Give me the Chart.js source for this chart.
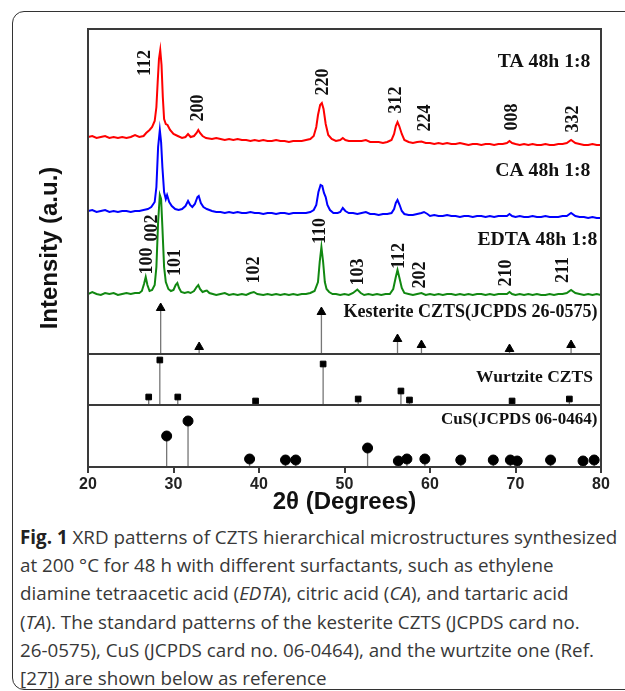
<!DOCTYPE html>
<html><head><meta charset="utf-8">
<script src="https://cdn.jsdelivr.net/npm/chart.js@4.4.0/dist/chart.umd.min.js"></script>
<style>
html,body{margin:0;padding:0;background:#fff;width:625px;height:691px;overflow:hidden;}
#frame{position:absolute;left:12px;top:11px;width:700px;height:677px;border:1.5px solid #333;border-radius:12px;}
#wrap{position:absolute;left:0;top:0;width:625px;height:520px;}
#caption{position:absolute;left:20px;top:523px;font-family:'Open Sans';font-size:18.8px;line-height:28.2px;color:#383838;white-space:nowrap;}
#caption b{color:#222;}
</style></head>
<body>
<div id="frame"></div>
<div id="wrap"><canvas id="c" width="625" height="520"></canvas></div>
<div id="caption"><b>Fig. 1</b> XRD patterns of CZTS hierarchical microstructures synthesized<br>at 200 °C for 48 h with different surfactants, such as ethylene<br>diamine tetraacetic acid (<i>EDTA</i>), citric acid (<i>CA</i>), and tartaric acid<br>(<i>TA</i>). The standard patterns of the kesterite CZTS (JCPDS card no.<br>26-0575), CuS (JCPDS card no. 06-0464), and the wurtzite one (Ref.<br>[27]) are shown below as reference</div>
<script>
// ---- data (2θ in degrees, intensity in arbitrary offset units) ----
const taPattern = [[20,330],[20.5,331],[21,329],[21.5,330],[22,331],[22.5,329],[23,330],[23.5,329],[24,330],[24.5,329],[25,330],[25.5,332],[26,330],[26.5,331],[26.8,334],[27.2,337],[27.5,340],[27.8,346],[28,360],[28.15,385],[28.3,408],[28.45,417],[28.6,402],[28.75,370],[28.9,348],[29.1,343],[29.3,342],[29.6,337],[30,333],[30.5,331],[31,329],[31.4,330],[31.7,333],[32,330],[32.4,331],[32.7,334],[32.9,337],[33.1,334],[33.4,331],[33.8,329],[34.5,328],[35,329],[35.5,328],[36,327],[36.5,328],[37,327],[37.5,328],[38,327],[38.5,327],[39,326],[39.5,327],[40,326],[40.5,327],[41,326],[41.5,326],[42,327],[42.5,326],[43,326],[43.5,325],[44,326],[44.5,326],[45,326],[45.5,327],[46,328],[46.4,331],[46.7,340],[46.9,352],[47.15,362],[47.35,364],[47.55,358],[47.8,343],[48.1,332],[48.5,328],[49,326],[49.5,327],[49.8,329],[50.1,327],[50.5,326],[51,326],[51.5,326],[52,326],[52.5,327],[53,325],[53.5,325],[54,325],[54.5,324],[55,325],[55.5,327],[55.8,333],[56,341],[56.2,345],[56.4,341],[56.7,333],[57,327],[57.5,325],[58,324],[58.5,325],[59,325.5],[59.5,324],[60,324],[60.5,323],[61,324],[61.5,323],[62,324],[62.5,323],[63,323],[63.5,324],[64,323],[64.5,322],[65,323],[65.5,323],[66,322],[66.5,323],[67,323],[67.5,322],[68,323],[68.5,323],[69,324],[69.3,326],[69.6,324],[70,323],[70.5,322],[71,323],[71.5,322],[72,323],[72.5,322],[73,322],[73.5,323],[74,322],[74.5,322],[75,323],[75.5,323],[76,324],[76.5,327],[77,324],[77.5,323],[78,322],[78.5,322],[79,323],[79.5,322],[80,322]];
const caPattern = [[20,256],[20.5,257],[21,255],[21.5,256],[22,257],[22.5,255],[23,256],[23.5,255],[24,256],[24.5,256],[25,255],[25.5,256],[26,256],[26.5,257],[27,258],[27.4,260],[27.8,265],[28,280],[28.2,320],[28.4,337],[28.55,325],[28.7,300],[28.9,275],[29.1,268],[29.25,272],[29.5,265],[29.8,261],[30.2,258],[30.6,257],[31,258],[31.4,261],[31.7,266],[31.95,262],[32.2,260],[32.5,263],[32.8,270],[32.95,271],[33.2,264],[33.5,260],[33.9,258],[34.5,256],[35,255],[35.5,255],[36,254],[36.5,255],[37,254],[37.5,255],[38,254],[38.5,254],[39,255],[39.5,254],[40,254],[40.5,253],[41,254],[41.5,254],[42,253],[42.5,254],[43,254],[43.5,253],[44,254],[44.5,254],[45,254],[45.5,254],[46,255],[46.4,257],[46.7,262],[46.95,275],[47.2,282],[47.4,281],[47.6,274],[47.8,270],[48,262],[48.3,257],[48.7,254],[49.2,254],[49.5,255],[49.8,259],[50.1,256],[50.5,254],[51,254],[51.5,253],[52,254],[52.5,255],[53,253],[53.5,253],[54,252],[54.5,253],[55,253],[55.5,254],[55.8,258],[56,264],[56.2,267],[56.45,262],[56.7,256],[57,253],[57.5,252],[58,252],[58.5,253],[59,254],[59.3,255],[59.7,253],[60,251],[60.5,252],[61,251],[61.5,251],[62,252],[62.5,251],[63,251],[63.5,250],[64,251],[64.5,251],[65,250],[65.5,251],[66,251],[66.5,250],[67,251],[67.5,250],[68,251],[68.5,251],[69,251],[69.3,253],[69.6,251],[70,250],[70.5,251],[71,250],[71.5,250],[72,251],[72.5,250],[73,250],[73.5,251],[74,250],[74.5,250],[75,250],[75.5,251],[76,251],[76.5,254],[77,251],[77.5,250],[78,250],[78.5,249],[79,250],[79.5,249],[80,249]];
const edtaPattern = [[20,173],[20.5,175],[21,173],[21.5,172],[22,174],[22.5,173],[23,174],[23.5,172],[24,173],[24.5,174],[25,173],[25.5,174],[26,174],[26.3,176],[26.55,183],[26.75,190],[26.95,182],[27.2,176],[27.5,177],[27.8,182],[28,200],[28.2,245],[28.4,272],[28.55,268],[28.7,240],[28.9,200],[29.1,185],[29.4,178],[29.7,176],[30,177],[30.25,182],[30.45,184],[30.65,179],[30.9,175],[31.3,174],[31.7,175],[32,174],[32.4,176],[32.7,180],[32.9,182],[33.1,178],[33.4,175],[33.7,176],[33.9,176.5],[34.2,174],[34.6,173],[35,172],[35.5,173],[36,174],[36.5,172],[37,173],[37.5,172],[38,173],[38.5,172],[39,174],[39.4,175],[39.8,173],[40.5,172],[41,173],[41.5,172],[42,173],[42.5,172],[43,173],[43.5,172],[44,173],[44.5,172],[45,173],[45.5,173],[46,174],[46.5,176],[46.9,185],[47.1,205],[47.3,220],[47.5,205],[47.7,185],[47.9,178],[48.2,175],[48.6,173],[49,173],[49.5,172],[50,173],[50.5,172],[51,174],[51.5,177.5],[51.9,174],[52.3,172],[52.8,173],[53.3,172],[53.8,173],[54.3,172],[54.8,173],[55.3,173],[55.7,178],[56,190],[56.2,197],[56.4,190],[56.7,179],[57,174],[57.5,173],[58,172],[58.5,173],[59,174],[59.5,172],[60,173],[60.5,172],[61,173],[61.5,172],[62,173],[62.5,173],[63,172],[63.5,173],[64,172],[64.5,173],[65,172],[65.5,173],[66,173],[66.5,172],[67,173],[67.5,172],[68,173],[68.5,173],[69,173],[69.3,175],[69.6,173],[70,172],[70.5,173],[71,172],[71.5,173],[72,172],[72.5,173],[73,172],[73.5,172],[74,173],[74.5,172],[75,173],[75.5,173],[76,174],[76.5,177],[77,174],[77.5,173],[78,172],[78.5,173],[79,172],[79.5,173],[80,172]];

const kesteritePeaks = [28.5, 33.0, 47.3, 56.2, 59.0, 69.3, 76.5];
const kesteriteHeights = [46, 7, 42, 15, 9, 5, 9];
const kesteriteBase = 113;
const wurtzitePeaks = [27.1, 28.4, 30.5, 39.6, 47.5, 51.6, 56.6, 57.6, 69.6, 76.3];
const wurtziteHeights = [8, 45, 8, 4, 41, 6, 14, 5, 4, 6];
const wurtziteBase = 62;
const cusPeaks = [29.2, 31.7, 38.9, 43.1, 44.3, 52.7, 56.3, 57.3, 59.4, 63.6, 67.4, 69.4, 70.2, 74.1, 77.9, 79.2];
const cusHeights = [31, 46, 8, 7, 7, 19, 6, 8, 8, 7, 7, 7, 6, 7, 6, 7];
const cusBase = 0;

const taHkl = ['112','200','220','312','224','008','332'];
const taHklAt = [[26.64,404],[32.79,359],[47.42,385],[56.0,367],[59.37,349],[69.49,350],[76.64,348]];
const edtaHkl = ['100','002','101','102','110','103','112','202','210','211'];
const edtaHklAt = [[26.85,206],[27.43,239],[30.12,204.5],[39.33,197],[47.07,236],[51.51,195],[56.27,211],[58.79,192],[68.83,194],[75.49,197]];

const panelTitles = ['TA 48h 1:8','CA 48h 1:8','EDTA 48h 1:8','Kesterite CZTS(JCPDS 26-0575)','Wurtzite CZTS','CuS(JCPDS 06-0464)'];
const panelTitleAt = [[78.76,405],[78.76,296],[79.58,227],[79.58,155],[79.05,90],[79.58,47]];
const panelTitleSize = [19.7,19.7,19.7,18,17.5,17];
const dividers = [113, 62];
const xTicks = [20,30,40,50,60,70,80];

// ---- build datasets ----
const toXY = arr => arr.map(p => ({x:p[0], y:p[1]}));
function sticks(pos, h, base){
  const out = [];
  pos.forEach((x,i)=>{ out.push({x, y:base}); out.push({x, y:base+h[i]}); out.push({x, y:null}); });
  return out;
}
const tops = (pos,h,base) => pos.map((x,i)=>({x, y:base+h[i]}));
const AX = '#3a3a3a';

const labelPlugin = {
  id:'labels',
  afterDraw(chart){
    const {ctx, chartArea:a, scales:{x, y}} = chart;
    ctx.save();
    ctx.strokeStyle = AX; ctx.lineWidth = 2;
    ctx.strokeRect(a.left, a.top, a.right-a.left, a.bottom-a.top);
    dividers.forEach(v=>{ const py = Math.round(y.getPixelForValue(v));
      ctx.beginPath(); ctx.moveTo(a.left, py); ctx.lineTo(a.right, py); ctx.stroke(); });
    ctx.fillStyle = '#111';
    ctx.textAlign = 'center'; ctx.textBaseline = 'middle';
    ctx.font = 'bold 18px "Liberation Serif"';
    const rot = (txt, p) => { ctx.save(); ctx.translate(x.getPixelForValue(p[0]), y.getPixelForValue(p[1]));
      ctx.rotate(-Math.PI/2); ctx.fillText(txt, 0, 1); ctx.restore(); };
    taHkl.forEach((t,i)=>rot(t, taHklAt[i]));
    edtaHkl.forEach((t,i)=>rot(t, edtaHklAt[i]));
    ctx.textAlign = 'right';
    panelTitles.forEach((t,i)=>{
      ctx.font = 'bold '+panelTitleSize[i]+'px "Liberation Serif"';
      ctx.fillText(t, x.getPixelForValue(panelTitleAt[i][0]), y.getPixelForValue(panelTitleAt[i][1]));
    });
    ctx.restore();
  }
};

new Chart(document.getElementById('c'), {
  type:'scatter',
  data:{datasets:[
    {label:'Kesterite', data:tops(kesteritePeaks,kesteriteHeights,kesteriteBase), pointStyle:'triangle', pointRadius:5, backgroundColor:'#000', borderColor:'#000', borderWidth:1, order:0},
    {label:'Wurtzite', data:tops(wurtzitePeaks,wurtziteHeights,wurtziteBase), pointStyle:'rect', pointRadius:4, backgroundColor:'#000', borderColor:'#000', borderWidth:1, order:0},
    {label:'CuS', data:tops(cusPeaks,cusHeights,cusBase), pointStyle:'circle', pointRadius:5, backgroundColor:'#000', borderColor:'#000', borderWidth:1, order:0},
    {label:'k-sticks', data:sticks(kesteritePeaks,kesteriteHeights,kesteriteBase), showLine:true, spanGaps:false, pointRadius:0, borderColor:'#777', borderWidth:1.3, order:1},
    {label:'w-sticks', data:sticks(wurtzitePeaks,wurtziteHeights,wurtziteBase), showLine:true, spanGaps:false, pointRadius:0, borderColor:'#777', borderWidth:1.3, order:1},
    {label:'c-sticks', data:sticks(cusPeaks,cusHeights,cusBase), showLine:true, spanGaps:false, pointRadius:0, borderColor:'#777', borderWidth:1.3, order:1},
    {label:'TA 48h 1:8', data:toXY(taPattern), showLine:true, pointRadius:0, borderColor:'#ff0000', borderWidth:2, order:2},
    {label:'CA 48h 1:8', data:toXY(caPattern), showLine:true, pointRadius:0, borderColor:'#0000ff', borderWidth:2, order:2},
    {label:'EDTA 48h 1:8', data:toXY(edtaPattern), showLine:true, pointRadius:0, borderColor:'#118811', borderWidth:2, order:2}
  ]},
  options:{
    responsive:false, animation:false, devicePixelRatio:1,
    layout:{padding:{top:29, right:24, left:0, bottom:0}},
    plugins:{legend:{display:false}, tooltip:{enabled:false}},
    scales:{
      x:{type:'linear', min:20, max:80,
        afterBuildTicks: s => { s.ticks = xTicks.map(v=>({value:v})); },
        ticks:{color:'#222', font:{family:'Liberation Sans', weight:'bold', size:16}, padding:2, maxRotation:0},
        grid:{display:true, drawOnChartArea:false, drawTicks:true, tickLength:6, color:AX, lineWidth:2},
        border:{display:true, color:AX, width:2},
        title:{display:true, text:'2θ (Degrees)', color:'#111', font:{family:'Liberation Sans', weight:'bold', size:24}, padding:{top:0, bottom:3}},
        afterFit: s => { s.height = 53; }
      },
      y:{type:'linear', min:0, max:438,
        ticks:{display:false},
        grid:{display:false, drawTicks:false},
        border:{display:true, color:AX, width:2},
        title:{display:true, text:'Intensity (a.u.)', color:'#111', font:{family:'Liberation Sans', weight:'bold', size:24}, padding:{top:36, bottom:0}},
        afterFit: s => { s.width = 88; }
      }
    }
  },
  plugins:[labelPlugin]
});
</script>
</body></html>
